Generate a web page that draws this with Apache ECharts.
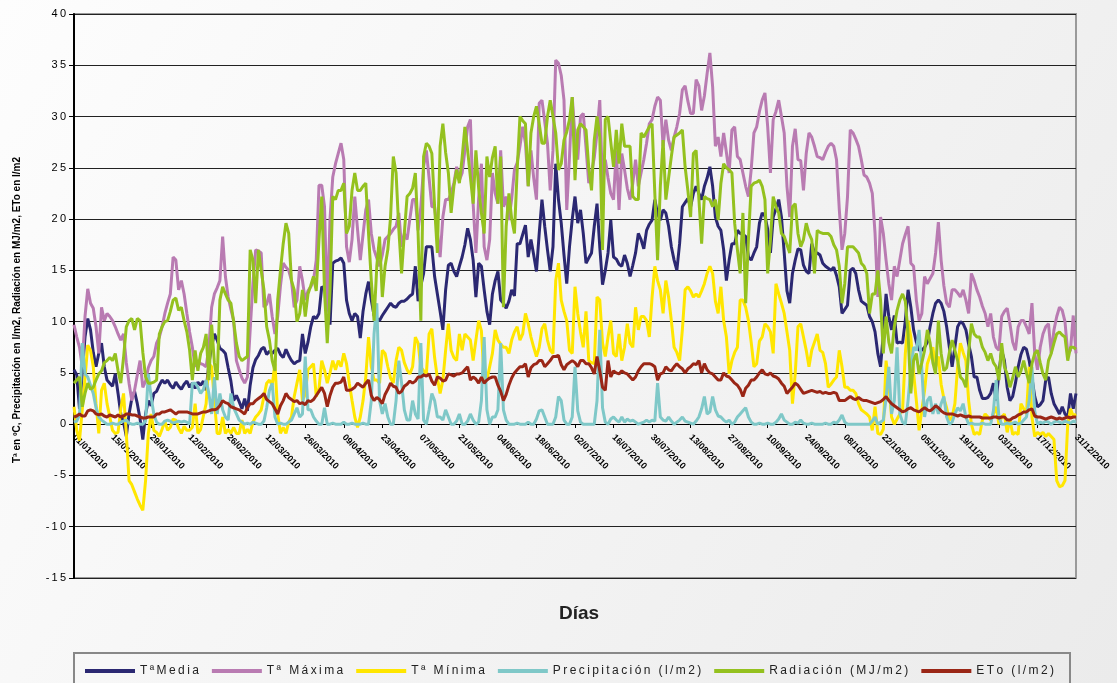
<!DOCTYPE html>
<html>
<head>
<meta charset="utf-8">
<title>Datos climáticos diarios</title>
<script src="https://cdn.jsdelivr.net/npm/echarts@6.0.0/dist/echarts.min.js"></script>
<style>
  html, body { margin: 0; padding: 0; }
  #chart { width: 1117px; height: 683px; }
</style>
</head>
<body>
<div id="chart"></div>
<script>
var nombres = ['TªMedia', 'Tª Máxima', 'Tª Mínima', 'Precipitación (l/m2)', 'Radiación (MJ/m2)', 'ETo (l/m2)'];
var colores = ['#2b2872', '#b97bb2', '#ffe600', '#7fc8c8', '#94c11f', '#9a2616'];
var yTicks = [-15, -10, -5, 0, 5, 10, 15, 20, 25, 30, 35, 40];
var tituloY = 'Tª en ºC, Precipitación en l/m2, Radiación en MJ/m2, ETo en l/m2';

// dias del año (etiquetas del eje x)
var dias = [];
(function () {
    function pad(n) { return n < 10 ? '0' + n : '' + n; }
    for (var i = 0; i < 365; i++) {
        var d = new Date(2010, 0, 1 + i);
        dias.push(pad(d.getDate()) + '/' + pad(d.getMonth() + 1) + '/' + d.getFullYear());
    }
})();

var tMedia = [
5.3, 4.8, 1.5, 5.0, 8.5, 10.3, 9.2, 7.0, 5.6, 6.9,
7.9, 5.6, 4.3, 4.0, 3.7, 4.9, 3.0, 1.0, 0.2, -1.2,
1.0, 2.5, 3.2, 2.0, 0.5, -1.5, 1.0, 2.3, 1.8, 3.0,
3.2, 3.8, 4.3, 4.0, 4.3, 3.8, 3.5, 4.1, 3.7, 3.4,
3.9, 4.2, 3.6, 4.0, 3.5, 4.1, 3.8, 4.2, 3.3, 5.9,
7.6, 8.8, 8.2, 7.4, 7.2, 6.9, 5.5, 4.2, 2.3, 2.8,
2.2, 1.5, 2.5, 1.3, 3.8, 5.5, 6.3, 6.7, 7.3, 7.5,
6.8, 7.1, 6.9, 7.2, 7.4, 6.8, 6.5, 7.3, 6.7, 6.2,
5.9, 6.1, 6.2, 8.8, 6.9, 8.0, 9.5, 10.5, 10.3, 10.8,
13.4, 13.2, 13.5, 9.7, 15.7, 15.9, 16.0, 16.2, 15.7, 12.1,
10.8, 10.1, 10.8, 10.5, 8.4, 11.0, 12.7, 13.9, 12.1, 10.6,
10.3, 10.1, 10.6, 11.0, 11.4, 11.8, 11.5, 11.4, 11.8, 12.0,
12.0, 12.2, 12.5, 12.7, 15.4, 12.0, 13.5, 14.7, 17.3, 17.3,
17.3, 14.4, 12.7, 11.0, 9.2, 13.1, 15.5, 15.7, 14.9, 14.4,
15.4, 16.3, 17.5, 19.1, 18.0, 16.0, 12.4, 15.7, 15.4, 13.1,
11.0, 9.7, 12.7, 14.0, 14.9, 12.1, 11.8, 11.3, 12.0, 13.1,
12.5, 17.6, 17.6, 18.5, 19.4, 16.3, 18.0, 16.5, 14.9, 18.6,
21.9, 19.3, 17.0, 14.9, 17.3, 25.4, 21.9, 19.6, 16.5, 13.7,
17.3, 20.0, 22.2, 19.6, 20.9, 18.6, 15.7, 16.2, 16.7, 19.3,
21.5, 17.3, 13.6, 15.0, 16.7, 19.9, 16.3, 16.1, 15.6, 15.4,
16.5, 15.7, 14.4, 15.5, 16.7, 18.6, 18.0, 17.1, 18.9, 19.5,
19.9, 21.9, 20.5, 19.9, 20.9, 20.6, 19.3, 17.3, 16.0, 15.0,
17.6, 21.2, 21.6, 22.0, 21.2, 22.5, 23.2, 22.5, 21.9, 23.2,
24.0, 25.1, 23.2, 20.2, 19.3, 18.9, 17.0, 14.0, 16.0, 17.6,
17.6, 18.9, 18.6, 18.5, 18.3, 16.3, 16.0, 16.7, 17.3, 19.6,
20.6, 20.3, 19.0, 16.7, 20.2, 21.0, 21.9, 20.2, 16.7, 13.0,
11.8, 14.7, 16.0, 17.1, 17.0, 15.5, 14.9, 14.7, 17.6, 16.7,
16.7, 16.5, 15.7, 15.4, 15.2, 15.0, 15.3, 14.5, 13.4, 10.8,
11.2, 11.6, 15.0, 15.2, 14.7, 13.1, 12.0, 11.8, 11.6, 10.5,
10.0, 9.0, 6.9, 5.6, 8.8, 12.7, 10.5, 9.2, 10.6, 7.9,
8.0, 7.9, 10.1, 13.1, 11.4, 9.2, 8.0, 7.2, 7.2, 7.5,
8.0, 9.5, 10.8, 11.8, 12.1, 11.8, 11.0, 9.5, 7.5, 5.6,
7.5, 9.5, 10.0, 9.8, 9.2, 7.8, 6.6, 4.6, 4.6, 3.3,
2.5, 2.5, 2.6, 3.0, 4.0, 2.3, 5.0, 7.2, 6.2, 3.6,
2.3, 2.7, 4.0, 5.6, 6.8, 7.5, 7.3, 6.2, 4.5, 2.7,
1.7, 1.9, 2.3, 4.3, 4.6, 3.0, 2.0, 1.5, 1.0, 1.7,
1.0, 0.7, 3.0, 1.5, 3.0
];

var tMaxima = [
9.7, 8.5, 7.5, 5.6, 10.5, 13.2, 11.8, 11.3, 9.5, 6.9,
11.4, 10.1, 10.8, 10.5, 10.1, 9.5, 8.8, 8.2, 8.8, 6.0,
4.0, 2.3, 3.3, 4.8, 6.2, 3.6, 4.2, 5.5, 6.2, 6.6,
7.9, 8.5, 9.5, 10.8, 11.8, 12.7, 16.3, 16.0, 13.1, 14.0,
12.7, 10.8, 9.0, 7.5, 5.6, 6.2, 5.9, 5.8, 5.6, 7.5,
11.4, 12.7, 13.3, 14.0, 18.3, 14.4, 12.4, 11.2, 10.1, 6.2,
5.3, 4.5, 4.0, 4.6, 9.2, 13.7, 17.0, 16.9, 16.7, 11.4,
11.7, 12.7, 10.5, 8.8, 10.5, 13.5, 15.7, 15.3, 15.0, 14.0,
11.4, 12.1, 15.4, 14.0, 12.1, 13.0, 13.4, 14.0, 16.0, 23.3,
23.3, 21.2, 11.1, 20.0, 24.1, 25.4, 26.4, 27.4, 25.8, 17.3,
15.8, 18.0, 22.2, 19.0, 16.0, 18.5, 20.9, 21.9, 18.6, 17.0,
16.2, 15.4, 16.5, 18.0, 18.3, 18.6, 19.0, 19.3, 20.6, 17.3,
18.6, 18.0, 20.0, 21.9, 21.9, 18.9, 21.2, 25.1, 26.7, 24.0,
21.2, 21.2, 18.6, 16.3, 20.2, 21.9, 21.9, 22.5, 23.5, 25.1,
23.8, 24.5, 26.7, 29.0, 29.7, 21.5, 16.7, 22.0, 25.4, 17.3,
16.0, 18.0, 24.5, 22.5, 21.5, 26.7, 21.2, 22.2, 19.9, 22.0,
24.8, 25.5, 27.1, 29.0, 27.4, 23.2, 26.7, 24.0, 21.9, 31.3,
31.6, 29.5, 27.4, 22.8, 26.7, 35.5, 35.2, 34.0, 31.6, 20.9,
26.1, 31.9, 28.0, 25.8, 30.0, 30.3, 27.0, 23.5, 24.5, 26.0,
28.4, 31.6, 23.2, 25.8, 24.0, 22.5, 21.9, 26.7, 20.9, 26.4,
24.8, 23.0, 21.9, 23.5, 25.8, 23.2, 24.5, 25.8, 27.4, 29.3,
29.7, 31.0, 31.9, 31.6, 27.1, 29.7, 27.7, 26.7, 28.0, 29.0,
30.3, 32.6, 33.0, 31.5, 30.3, 30.3, 33.6, 33.0, 30.6, 32.0,
34.2, 36.2, 32.9, 27.1, 28.0, 26.1, 28.4, 26.5, 24.5, 28.7,
29.0, 26.1, 25.8, 24.5, 23.2, 22.2, 24.8, 28.4, 29.0, 30.5,
31.6, 32.3, 29.0, 24.5, 29.7, 30.5, 31.6, 30.0, 28.4, 23.2,
20.2, 27.1, 28.8, 25.8, 25.7, 22.8, 26.4, 28.4, 28.0, 27.1,
26.1, 26.0, 25.8, 26.5, 27.1, 27.4, 27.1, 25.8, 21.0, 17.0,
18.6, 22.2, 28.7, 28.4, 27.8, 27.1, 25.8, 24.3, 24.1, 23.5,
22.5, 18.6, 12.4, 20.2, 18.6, 16.0, 13.7, 12.1, 15.4, 14.4,
16.0, 17.6, 18.5, 19.3, 15.7, 15.4, 12.1, 10.1, 10.8, 14.4,
13.7, 14.2, 14.7, 16.7, 19.7, 16.0, 13.5, 11.8, 11.4, 13.1,
13.1, 12.8, 12.4, 13.1, 12.1, 10.8, 14.7, 14.0, 13.1, 12.4,
11.5, 10.8, 9.5, 10.8, 8.5, 7.5, 7.2, 10.5, 11.0, 11.3,
9.8, 8.0, 7.2, 9.5, 10.1, 10.1, 9.5, 8.8, 11.8, 6.9,
5.3, 7.5, 8.8, 9.5, 9.8, 6.9, 9.2, 10.5, 11.4, 11.1,
10.0, 6.9, 7.2, 10.6, 6.9
];

var tMinima = [
1.7, -0.6, -1.6, 1.4, 4.5, 7.7, 7.2, 5.6, 2.0, -0.9,
3.3, 4.0, 2.0, 0.7, -0.6, -0.9, -0.8, 1.5, 3.0, -0.9,
-5.5, -5.9, -6.6, -7.3, -7.9, -8.4, -5.5, -0.9, 1.0, -0.6,
-0.8, -1.2, -0.5, 0.3, -0.6, -0.3, 0.5, 0.4, -0.4, -0.9,
-0.2, -0.6, -0.6, -0.3, 2.0, -0.9, -0.5, 0.8, 2.0, 5.9,
5.6, 2.3, -0.9, -0.9, 0.7, -0.9, -0.5, -0.9, -0.3, -0.9,
-0.9, 0.4, -0.9, -0.5, -0.9, 0.2, 0.7, 1.0, 1.4, 2.7,
4.0, 4.3, 3.8, 5.9, 1.0, -0.9, -0.3, -0.9, 0.2, 0.7,
2.7, 4.0, 5.3, 2.3, 2.9, 5.3, 5.6, 5.9, 2.7, 3.5,
6.2, 5.3, 4.0, 5.0, 6.2, 5.3, 6.2, 5.6, 6.9, 5.9,
4.0, 2.3, 0.7, -0.3, 0.7, 2.3, 4.6, 8.5, 5.6, 4.3,
4.3, 4.0, 7.2, 6.9, 5.6, 4.5, 4.0, 6.2, 7.5, 7.2,
6.0, 5.3, 4.9, 5.6, 8.5, 7.9, 5.6, 5.2, 4.9, 8.8,
9.3, 6.5, 4.5, 3.0, 4.3, 7.2, 9.8, 7.2, 6.5, 6.2,
8.8, 7.2, 8.8, 8.5, 8.2, 6.2, 8.2, 10.1, 9.1, 4.3,
4.3, 5.6, 6.9, 9.2, 8.2, 7.8, 7.5, 7.5, 6.9, 8.2,
9.0, 9.5, 8.2, 8.8, 10.8, 9.8, 8.5, 7.5, 6.6, 7.5,
9.3, 9.8, 8.2, 7.2, 6.9, 14.0, 15.7, 12.1, 11.0, 10.1,
7.2, 6.9, 13.4, 10.8, 9.0, 7.5, 11.0, 6.2, 6.0, 5.9,
12.4, 12.1, 7.9, 6.6, 8.5, 10.1, 6.9, 6.6, 8.8, 6.2,
7.5, 9.8, 7.9, 7.5, 11.4, 9.2, 10.5, 10.5, 10.1, 8.5,
12.4, 15.4, 14.0, 13.1, 10.8, 14.0, 12.4, 10.1, 7.5, 7.0,
6.2, 9.2, 13.1, 13.4, 13.0, 12.4, 12.7, 12.4, 13.0, 13.7,
14.7, 15.4, 14.7, 12.0, 10.8, 13.4, 10.1, 8.5, 4.9, 6.2,
7.0, 7.5, 12.1, 12.1, 11.4, 10.1, 8.0, 5.6, 5.9, 8.1,
8.5, 9.8, 9.5, 9.0, 6.9, 13.7, 12.7, 11.8, 10.8, 9.0,
7.2, 2.0, 4.9, 9.5, 9.8, 8.5, 7.2, 5.6, 7.2, 8.0,
8.8, 7.2, 7.0, 5.9, 3.6, 3.9, 4.3, 4.6, 7.2, 5.6,
3.6, 3.6, 3.3, 3.3, 3.0, 2.0, 1.4, 1.2, 1.0, 0.7,
-0.6, 1.7, -0.9, -1.0, -0.5, 6.2, 3.9, 0.7, 0.0, 0.5,
1.0, 1.4, 6.9, 10.1, 8.5, 5.0, 2.3, -0.6, 1.4, 3.3,
5.9, 6.7, 7.5, 5.6, 6.6, 3.9, 2.5, 1.6, 0.4, 0.7,
2.0, 5.6, 7.9, 7.0, 6.2, 2.3, 0.0, -1.0, -0.8, -1.0,
0.4, 1.0, 0.7, 0.4, 1.0, 1.7, 0.0, 0.7, 1.0, -0.8,
0.5, -1.0, -0.8, -1.0, 2.0, 1.5, 1.0, 5.6, 0.7, -1.2,
-0.8, -1.0, -0.8, -1.2, -0.9, -1.2, -1.5, -5.5, -6.1, -6.0,
-5.5, 0.0, 1.5, 0.8, 1.0
];

var precipitacion = [
0.2, 0.3, 0.9, 7.9, 4.9, 4.6, 3.8, 3.0, 1.6, 0.7,
0.4, 0.2, 0.0, 0.0, 0.1, 0.0, 0.0, 0.2, 0.3, 0.4,
0.1, 0.0, 0.0, 0.1, 0.0, 0.0, 0.3, 4.9, 2.7, 1.0,
0.2, 0.0, 0.0, 0.3, 0.4, 0.3, 0.1, 0.2, 0.3, 0.2,
0.3, 0.2, 0.0, 4.0, 4.0, 3.6, 3.0, 3.4, 4.3, 3.0,
1.0, 4.6, 1.0, 3.0, 1.4, 0.7, 0.4, 3.0, 1.6, 1.0,
0.4, 0.2, 0.0, 0.1, 0.0, 0.2, 0.1, 0.0, 0.0, 0.3,
1.6, 3.3, 4.0, 0.7, 0.0, 0.1, 0.0, 0.0, 0.2, 0.4,
1.0, 1.6, 0.7, 1.0, 6.6, 1.4, 1.4, 0.7, 0.3, 0.0,
0.0, 1.6, 0.0, 0.0, 0.1, 0.0, 0.0, 0.0, 0.2, 0.0,
0.0, 0.1, 0.0, 0.0, 0.0, 0.1, 0.0, 0.0, 2.3, 8.8,
11.8, 2.3, 1.0, 2.0, 0.7, 0.0, 0.0, 2.3, 6.2, 4.0,
1.4, 0.4, 0.4, 2.3, 1.0, 0.5, 7.9, 0.4, 0.0, 1.4,
3.0, 2.3, 0.7, 0.7, 0.4, 1.4, 0.7, 0.0, 0.0, 0.3,
1.0, 0.0, 0.0, 0.3, 1.0, 0.4, 0.0, 0.2, 2.3, 8.5,
1.4, 0.0, 0.7, 0.7, 1.4, 7.9, 1.4, 0.4, 0.0, 0.0,
0.0, 0.1, 0.0, 0.0, 0.0, 0.2, 0.0, 0.0, 0.5, 1.3,
1.4, 0.7, 0.0, 0.0, 0.0, 0.7, 2.7, 2.3, 0.4, 0.0,
0.0, 0.7, 5.6, 1.3, 0.2, 0.0, 0.0, 0.0, 0.0, 0.0,
2.3, 9.2, 1.6, 0.2, 0.0, 0.5, 0.7, 0.4, 0.2, 0.7,
0.2, 0.5, 0.3, 0.4, 0.2, 0.0, 0.1, 0.2, 0.4, 0.2,
0.4, 0.3, 4.0, 0.7, 0.4, 0.3, 0.7, 0.3, 0.0, 0.2,
0.4, 0.7, 0.3, 0.2, 0.1, 0.0, 0.3, 0.7, 1.5, 2.7,
1.0, 1.2, 2.7, 1.4, 0.8, 0.7, 0.4, 0.2, 0.4, 0.0,
0.2, 0.7, 1.0, 1.3, 1.6, 0.7, 0.2, 0.0, 0.0, 0.1,
0.0, 0.0, 0.1, 0.0, 0.0, 0.2, 0.5, 1.0, 0.4, 0.2,
0.0, 0.0, 0.2, 0.1, 0.4, 0.1, 0.0, 0.0, 0.1, 0.0,
0.0, 0.0, 0.0, 0.1, 0.0, 0.0, 0.2, 0.1, 0.4, 0.9,
0.2, 0.0, 0.0, 0.0, 0.0, 0.0, 0.0, 0.0, 0.0, 0.0,
0.3, 0.7, 0.0, 0.2, 0.4, 2.5, 5.6, 1.0, 2.3, 7.5,
1.0, 0.2, 0.0, 2.3, 5.3, 7.5, 7.2, 9.2, 5.3, 0.7,
2.3, 2.7, 1.0, 2.0, 1.0, 2.0, 2.7, 0.7, 0.0, 0.2,
1.0, 1.6, 1.3, 2.0, 0.7, 0.0, 0.1, 0.0, 0.0, 0.0,
0.1, 0.0, 0.0, 0.0, 1.3, 4.3, 0.7, 0.0, 0.0, 0.1,
0.0, 0.1, 0.2, 0.0, 0.1, 0.4, 0.7, 2.3, 5.6, 1.3,
0.0, 0.2, 0.1, 0.3, 0.2, 0.0, 0.2, 0.3, 0.2, 0.1,
0.3, 0.2, 0.1, 0.3, 0.2
];

var radiacion = [
4.0, 4.3, 4.6, 1.7, 3.0, 4.0, 3.4, 3.6, 4.3, 4.9,
5.2, 6.0, 6.2, 6.5, 6.2, 6.9, 5.2, 4.0, 6.5, 9.5,
10.1, 10.3, 9.2, 10.3, 10.1, 7.0, 4.6, 4.0, 4.0, 4.1,
4.3, 8.8, 9.5, 10.0, 10.1, 11.0, 12.1, 12.3, 11.1, 11.4,
10.1, 9.0, 7.2, 4.3, 7.2, 5.2, 6.9, 7.5, 8.8, 4.3,
9.7, 6.0, 4.3, 12.1, 13.4, 12.7, 12.1, 11.8, 10.0, 7.9,
6.6, 6.2, 6.4, 6.6, 17.0, 16.0, 11.8, 17.0, 15.0, 13.1,
9.5, 8.2, 6.2, 5.2, 12.1, 15.0, 17.6, 19.6, 18.6, 14.0,
13.1, 10.0, 10.8, 13.1, 10.5, 12.7, 13.5, 14.4, 13.0, 18.0,
22.2, 13.0, 7.9, 13.0, 22.2, 21.9, 22.8, 22.8, 23.5, 18.6,
19.3, 22.8, 24.5, 22.8, 22.8, 23.2, 23.5, 18.6, 14.0, 10.1,
15.4, 18.3, 12.4, 15.4, 17.0, 20.2, 26.1, 24.5, 19.0, 14.7,
18.6, 22.2, 22.5, 23.0, 24.5, 18.6, 10.1, 26.1, 27.4, 27.1,
26.4, 21.2, 16.7, 27.1, 29.3, 26.5, 24.5, 20.6, 23.2, 24.8,
23.5, 26.0, 29.0, 26.7, 24.1, 21.5, 26.7, 23.0, 20.6, 18.6,
26.1, 24.1, 26.0, 27.1, 21.5, 26.1, 11.4, 19.3, 22.5, 20.0,
18.6, 24.8, 30.0, 29.6, 29.3, 23.2, 28.4, 30.0, 31.0, 29.3,
27.4, 27.4, 30.0, 31.6, 30.0, 28.4, 24.8, 25.4, 27.7, 28.5,
29.7, 31.9, 23.8, 28.7, 29.3, 29.0, 28.7, 25.0, 22.8, 27.7,
30.0, 28.0, 17.0, 29.7, 30.0, 27.5, 25.1, 28.7, 25.4, 29.3,
27.1, 27.1, 27.1, 22.2, 21.9, 21.9, 28.4, 28.0, 28.5, 29.0,
29.3, 22.5, 16.0, 23.2, 27.7, 21.9, 24.0, 26.1, 28.0, 28.2,
28.4, 28.7, 25.1, 22.8, 20.2, 26.4, 26.7, 22.0, 17.6, 22.2,
22.0, 21.9, 21.2, 21.9, 19.9, 23.5, 25.4, 25.0, 24.8, 24.5,
19.6, 17.0, 14.7, 20.6, 11.8, 18.0, 23.2, 23.5, 23.6, 23.8,
23.2, 21.9, 14.7, 18.0, 22.2, 21.2, 20.6, 18.6, 18.3, 17.5,
16.7, 21.2, 21.5, 18.6, 17.3, 18.0, 19.6, 18.6, 18.0, 14.7,
18.9, 18.7, 18.6, 18.6, 18.6, 18.3, 17.5, 17.0, 15.4, 11.8,
13.7, 17.3, 17.3, 17.3, 17.0, 16.7, 15.7, 15.4, 14.7, 10.8,
12.7, 12.7, 15.0, 12.1, 6.9, 10.5, 8.0, 6.9, 9.5, 11.1,
12.1, 12.7, 12.0, 8.8, 3.0, 6.2, 6.9, 4.9, 6.0, 7.2,
9.2, 7.9, 6.0, 4.9, 10.1, 6.9, 5.2, 5.5, 7.0, 8.2,
7.2, 6.2, 4.6, 4.3, 3.6, 7.0, 9.8, 8.8, 8.5, 8.5,
7.5, 7.0, 6.2, 6.9, 6.0, 5.6, 4.3, 7.9, 5.6, 4.9,
3.6, 4.5, 5.6, 4.6, 5.2, 6.2, 5.0, 4.0, 5.9, 6.9,
7.2, 6.0, 4.9, 4.3, 6.2, 6.9, 7.9, 8.8, 9.0, 8.7,
8.5, 6.2, 7.5, 7.5, 7.3
];

var eto = [
0.7, 0.8, 1.0, 0.8, 0.8, 1.3, 1.4, 1.3, 1.0, 0.9,
1.0, 0.8, 0.7, 0.9, 0.8, 0.7, 0.9, 0.7, 0.8, 1.0,
1.0, 0.9, 0.9, 0.8, 0.7, 0.6, 0.6, 0.7, 0.7, 0.7,
1.0, 1.0, 1.2, 1.2, 1.3, 1.4, 1.2, 1.0, 1.2, 1.2,
1.2, 1.2, 1.1, 1.0, 1.0, 1.0, 1.1, 1.2, 1.2, 1.3,
1.4, 1.4, 1.5, 1.8, 2.3, 2.1, 2.0, 1.7, 1.6, 1.5,
1.4, 1.2, 1.0, 1.6, 2.0, 2.0, 2.3, 2.5, 2.7, 3.0,
2.4, 2.2, 2.0, 1.5, 1.0, 1.8, 2.3, 3.0, 2.6, 2.4,
2.2, 2.3, 2.0, 2.1, 1.9, 2.3, 2.2, 2.4, 2.8, 3.2,
3.6, 3.0, 1.7, 2.8, 3.6, 4.0, 4.0, 4.1, 4.6, 3.3,
3.3, 3.4, 3.6, 4.0, 3.8, 3.6, 4.0, 4.3, 2.8, 2.3,
2.6, 2.4, 2.0, 2.9, 3.4, 4.0, 3.7, 3.6, 3.0, 3.2,
3.7, 3.9, 4.2, 4.0, 4.2, 4.6, 4.6, 4.8, 4.7, 4.9,
4.2, 3.8, 4.6, 4.5, 4.2, 4.3, 4.9, 4.8, 4.7, 4.9,
4.9, 5.0, 5.3, 5.6, 4.3, 4.6, 4.4, 4.0, 4.6, 4.0,
4.3, 4.5, 4.6, 4.6, 3.8, 3.2, 2.3, 2.9, 3.8, 4.5,
5.0, 5.3, 5.6, 5.6, 5.9, 4.6, 5.5, 5.8, 5.9, 6.2,
6.2, 5.6, 5.9, 6.2, 6.6, 6.6, 6.7, 5.8, 5.3, 5.8,
6.0, 6.2, 6.0, 5.6, 6.2, 6.2, 5.9, 5.9, 5.5, 4.9,
6.6, 5.2, 3.6, 3.3, 6.2, 4.6, 5.2, 5.0, 4.9, 5.2,
5.0, 4.9, 4.6, 4.3, 4.6, 5.2, 5.6, 5.9, 5.9, 5.9,
5.8, 5.6, 4.3, 4.9, 5.0, 5.6, 5.3, 5.2, 5.6, 5.9,
5.6, 5.4, 5.0, 5.4, 5.6, 5.9, 5.8, 6.2, 5.0, 5.9,
5.3, 5.0, 4.9, 4.6, 4.3, 4.3, 5.0, 4.7, 4.6, 4.3,
4.0, 3.8, 3.4, 2.7, 3.5, 3.8, 4.3, 4.3, 4.6, 5.0,
5.3, 4.9, 4.8, 5.0, 4.7, 4.6, 4.4, 4.0, 3.7, 3.0,
3.3, 3.6, 4.0, 3.8, 3.4, 3.0, 3.1, 3.2, 3.3, 3.2,
3.1, 3.2, 3.0, 3.1, 3.0, 3.0, 3.1, 3.0, 2.3, 2.3,
2.3, 2.5, 2.7, 2.5, 2.4, 2.6, 2.4, 2.3, 2.3, 2.2,
2.1, 2.0, 2.1, 2.2, 2.4, 2.7, 2.3, 2.0, 1.8, 1.6,
1.4, 1.2, 1.3, 1.5, 1.6, 1.4, 1.3, 1.2, 1.4, 1.6,
1.4, 1.3, 1.5, 1.8, 1.6, 1.3, 1.1, 1.0, 1.0, 1.0,
0.9, 0.8, 0.9, 0.8, 0.7, 0.8, 0.7, 0.7, 0.7, 0.7,
0.6, 0.6, 0.6, 0.6, 0.7, 0.7, 0.6, 0.7, 0.7, 0.4,
0.4, 0.6, 0.7, 0.9, 1.0, 1.2, 1.2, 1.4, 1.5, 0.8,
0.7, 0.7, 0.6, 0.5, 0.6, 0.7, 0.6, 0.5, 0.6, 0.5,
0.6, 0.7, 0.6, 0.7, 0.7
];

var valores = [tMedia, tMaxima, tMinima, precipitacion, radiacion, eto];

// separa las letras como en la hoja original
function espaciar(s) {
    return s.split('').join('\u2009');
}

var dom = document.getElementById('chart');
var myChart = echarts.init(dom, null, { renderer: 'canvas' });

var series = nombres.map(function (n, i) {
    return {
        name: n,
        type: 'line',
        data: valores[i],
        showSymbol: false,
        symbol: 'none',
        lineStyle: { width: 3, color: colores[i] },
        itemStyle: { color: colores[i] },
        animation: false
    };
});

var option = {
    backgroundColor: {
        type: 'linear', x: 0, y: 0, x2: 1, y2: 1,
        colorStops: [
            { offset: 0, color: '#fdfdfd' },
            { offset: 1, color: '#ebebeb' }
        ]
    },
    textStyle: { fontFamily: 'Liberation Sans, Arial, sans-serif' },
    animation: false,
    title: {
        text: 'Días',
        left: 554,
        top: 599,
        textStyle: { fontSize: 19, fontWeight: 'bold', color: '#222' }
    },
    grid: {
        left: 74, right: 41, top: 14, bottom: 105,
        show: true,
        borderColor: '#9a9a9a',
        borderWidth: 2,
        backgroundColor: 'transparent'
    },
    legend: {
        data: nombres,
        left: 80,
        top: 660,
        itemWidth: 50,
        itemHeight: 4,
        itemGap: 13,
        icon: 'rect',
        formatter: espaciar,
        textStyle: { fontSize: 12, color: '#222' }
    },
    graphic: [{
        type: 'rect',
        shape: { x: 74, y: 653, width: 996, height: 40 },
        style: { fill: 'transparent', stroke: '#888', lineWidth: 2 },
        silent: true
    }, {
        // titulo del eje vertical
        type: 'text',
        x: 17,
        y: 310,
        rotation: Math.PI / 2,
        style: {
            text: tituloY,
            fontSize: 10,
            fontWeight: 'bold',
            fontFamily: 'Liberation Sans, Arial, sans-serif',
            fill: '#000',
            align: 'center',
            verticalAlign: 'middle'
        },
        silent: true
    }],
    xAxis: {
        type: 'category',
        data: dias,
        boundaryGap: false,
        // el eje de fechas va sobre la línea del cero
        offset: -154,
        axisLine: { onZero: false, lineStyle: { color: '#000', width: 1 } },
        axisTick: { show: true, interval: 13, length: 4, lineStyle: { color: '#000' } },
        axisLabel: {
            interval: 13,
            rotate: -45,
            fontSize: 9,
            fontWeight: 'bold',
            color: '#000',
            margin: 12
        },
        splitLine: { show: false }
    },
    yAxis: {
        type: 'value',
        min: yTicks[0],
        max: yTicks[yTicks.length - 1],
        interval: 5,
        axisLine: { show: true, lineStyle: { color: '#000', width: 2 } },
        axisTick: { show: true, length: 5, lineStyle: { color: '#000' } },
        axisLabel: {
            fontSize: 11,
            color: '#000',
            margin: 8,
            formatter: function (v) {
                var t = espaciar(String(Math.abs(v)));
                return v < 0 ? '-\u2009' + t : t;
            }
        },
        splitLine: { lineStyle: { color: '#222', width: 1 } }
    },
    series: series
};

myChart.setOption(option);
window.addEventListener('resize', myChart.resize);
</script>
</body>
</html>
